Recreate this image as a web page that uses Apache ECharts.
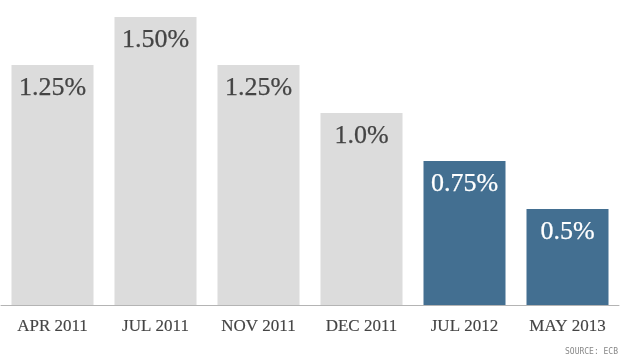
<!DOCTYPE html>
<html><head><meta charset="utf-8">
<script src="https://cdn.jsdelivr.net/npm/echarts@6/dist/echarts.min.js"></script>
<style>html,body{margin:0;padding:0;background:#fff}#c{width:620px;height:356px}</style>
</head><body><div id="c"></div>
<script>
var categories = ['APR 2011','JUL 2011','NOV 2011','DEC 2011','JUL 2012','MAY 2013'];
var rates = [1.25, 1.50, 1.25, 1.0, 0.75, 0.5];
var rateLabels = ['1.25%','1.50%','1.25%','1.0%','0.75%','0.5%'];
var highlighted = [false,false,false,false,true,true];

var chart = echarts.init(document.getElementById('c'), null, {renderer:'canvas'});
chart.setOption({
  animation:false,
  grid:{left:1,right:1,top:17,bottom:51,containLabel:false},
  xAxis:{type:'category',data:categories,
    axisLine:{lineStyle:{color:'#b4b4b4',width:1}},
    axisTick:{show:false},
    axisLabel:{fontFamily:'Liberation Serif',fontSize:17,color:'#444',margin:13,
      textBorderColor:'#444',textBorderWidth:0.15}},
  yAxis:{type:'value',min:0,max:1.5,show:false,splitLine:{show:false}},
  series:[{type:'bar',barWidth:82,
    data:rates.map(function(v,i){var c=highlighted[i]?'#ffffff':'#444444';return {value:v,
      itemStyle:{color:highlighted[i]?'#436f91':'#dcdcdc'},
      label:{color:c,textBorderColor:c,textBorderWidth:0.25}};}),
    label:{show:true,position:'insideTop',distance:10,fontFamily:'Liberation Serif',fontSize:26,
      formatter:function(p){return rateLabels[p.dataIndex];}}
  }],
  graphic:[{type:'text',right:2,top:348,style:{text:'SOURCE: ECB',fontFamily:'DejaVu Sans Mono',fontSize:8,fill:'#888'}}]
});
</script></body></html>
